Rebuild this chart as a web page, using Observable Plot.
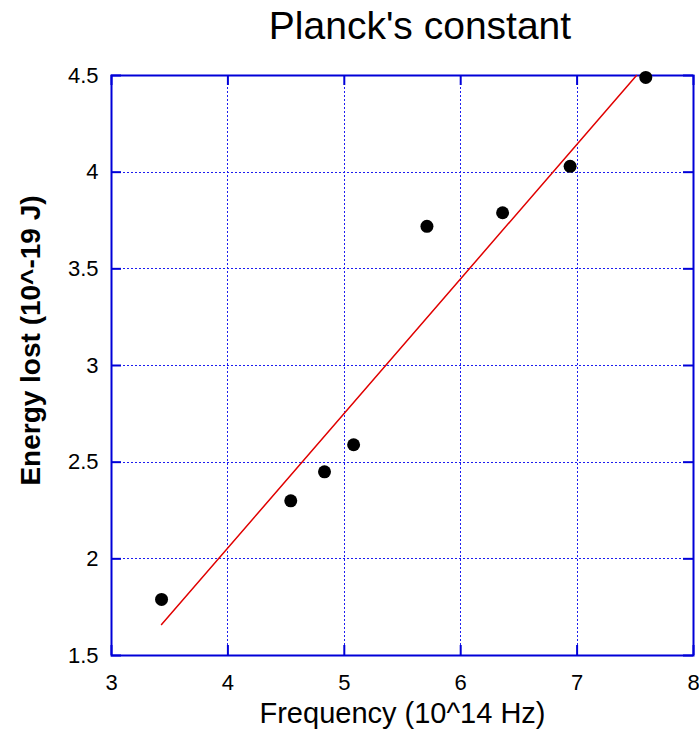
<!DOCTYPE html>
<html><head><meta charset="utf-8">
<script src="https://cdn.jsdelivr.net/npm/d3@7"></script>
<script src="https://cdn.jsdelivr.net/npm/@observablehq/plot@0.6"></script>
<style>
body{margin:0;background:#fff;font-family:"Liberation Sans",Arial,sans-serif;}
#title{height:60px;line-height:52px;width:699px;box-sizing:border-box;padding-left:141px;text-align:center;font-size:39px;color:#000;white-space:nowrap;}
</style></head><body>
<div id="title">Planck's constant</div>
<div id="chart"></div>
<script>
const frequency = [3.43, 4.54, 4.83, 5.08, 5.71, 6.36, 6.94, 7.59];
const energy = [1.79, 2.30, 2.45, 2.59, 3.72, 3.79, 4.03, 4.49];
const fitFrequency = [3.43, 7.51];
const fitEnergy = [1.66, 4.50];
const xTicks = [3, 4, 5, 6, 7, 8];
const yTicks = [1.5, 2, 2.5, 3, 3.5, 4, 4.5];
const xLabel = "Frequency (10^14 Hz)";
const yLabel = "Energy lost (10^-19 J)";

const points = frequency.map((f, i) => ({f, e: energy[i]}));
const fit = fitFrequency.map((f, i) => ({f, e: fitEnergy[i]}));
const blue = "#0000d8";
const gridBlue = "#1c1cf0";

const chart = Plot.plot({
  width: 699, height: 676,
  marginTop: 15, marginBottom: 81, marginLeft: 111, marginRight: 6,
  style: {fontFamily: "'Liberation Sans', Arial, sans-serif", fontSize: "22px", color: "#000", background: "#fff", overflow: "visible"},
  x: {domain: [3, 8]},
  y: {domain: [1.5, 4.5]},
  marks: [
    Plot.gridX(xTicks, {stroke: gridBlue, strokeOpacity: 1, strokeDasharray: "2,2", strokeWidth: 1, shapeRendering: "crispEdges"}),
    Plot.gridY(yTicks, {stroke: gridBlue, strokeOpacity: 1, strokeDasharray: "2,2", strokeWidth: 1, shapeRendering: "crispEdges"}),
    Plot.tickX(xTicks, {x: d => d, stroke: blue, strokeWidth: 2, insetTop: 570}),
    Plot.tickX(xTicks, {x: d => d, stroke: blue, strokeWidth: 2, insetBottom: 570}),
    Plot.tickY(yTicks, {y: d => d, stroke: blue, strokeWidth: 2, insetRight: 572}),
    Plot.tickY(yTicks, {y: d => d, stroke: blue, strokeWidth: 2, insetLeft: 572}),
    Plot.frame({stroke: blue, strokeWidth: 2}),
    Plot.axisX(xTicks, {tickSize: 0, tickPadding: 19, tickFormat: d => String(d), fontSize: 22, label: null}),
    Plot.axisY(yTicks, {tickSize: 0, tickPadding: 13, tickFormat: d => String(d), fontSize: 22, label: null}),
    Plot.line(fit, {x: "f", y: "e", stroke: "#e00000", strokeWidth: 1.5}),
    Plot.dot(points, {x: "f", y: "e", r: 6.5, fill: "#000", stroke: "none"}),
    Plot.text([xLabel], {text: d => d, frameAnchor: "bottom", dy: 67, fontSize: 29}),
    Plot.text([yLabel], {text: d => d, frameAnchor: "left", textAnchor: "middle", dx: -80, dy: -25, rotate: -90, fontSize: 28, fontWeight: "bold"})
  ]
});
document.getElementById("chart").appendChild(chart);
</script>
</body></html>
